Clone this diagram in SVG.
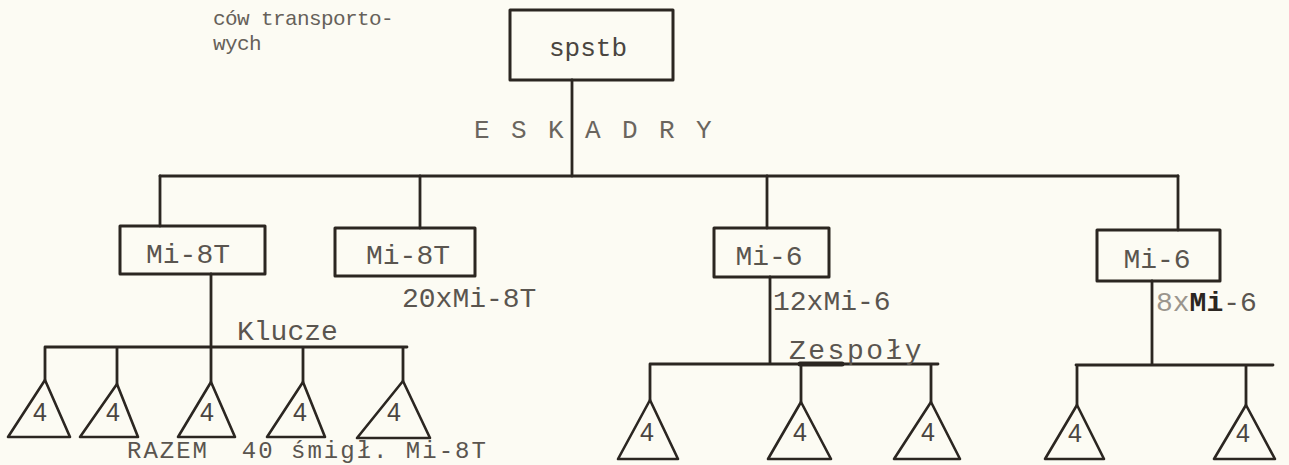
<svg xmlns="http://www.w3.org/2000/svg" width="1289" height="465" viewBox="0 0 1289 465">
<style>
.bg{fill:#fcfbf3}
.box{fill:none;stroke:#2b2621;stroke-width:3;stroke-linejoin:round}
.tri{fill:none;stroke:#2b2621;stroke-width:2.6;stroke-linejoin:round}
.ln{fill:none;stroke:#2b2621;stroke-width:2.8;stroke-linecap:round}
.tw{font-family:"Liberation Mono","DejaVu Sans Mono",monospace;fill:#5a554f}
.lbl{font-size:28px}
.sm{font-size:21px;letter-spacing:-0.6px;fill:#66615a}
.four{font-family:"Liberation Sans","DejaVu Sans",sans-serif;font-size:25px;fill:#4a4540;text-anchor:middle}
.mid{text-anchor:middle}
</style>
<rect class="bg" x="0" y="0" width="1289" height="465"/>

<g id="caption">
<text class="tw sm" x="213" y="25">ców transporto-</text>
<text class="tw sm" x="213" y="50">wych</text>
</g>

<g id="connectors">
<path class="ln" d="M572,80 V176"/>
<path class="ln" d="M160,176 H1178"/>
<path class="ln" d="M160,176 V226 M420,176 V228 M767,176 V228 M1178,176 V230"/>
<path class="ln" d="M211,274 V347 M45,347 H407 M45,347 V380 M117,347 V384 M211,347 V382 M303,347 V382 M403,347 V381"/>
<path class="ln" d="M770,277 V364 M650,364 H938 M650,364 V400 M801,364 V402 M931,364 V402"/>
<path class="ln" d="M800,364 H842" style="stroke-width:5"/>
<path class="ln" d="M1152,281 V365 M1076,365 H1273 M1077,365 V405 M1246,365 V405"/>
</g>

<g id="n-spstb">
<rect class="box" x="510" y="10" width="163" height="70"/>
<text class="tw mid" x="588" y="56" style="font-size:26px;fill:#4a4540">spstb</text>
</g>

<g id="l-eskadry">
<text class="tw" x="474" y="138" style="font-size:26px;letter-spacing:2.9px;fill:#6a655e" xml:space="preserve">E S K A D R Y</text>
</g>

<g id="n-mi8t-1">
<rect class="box" x="120" y="226" width="145" height="48"/>
<text class="tw lbl mid" x="188" y="263">Mi-8T</text>
</g>
<g id="n-mi8t-2">
<rect class="box" x="335" y="228" width="140" height="48"/>
<text class="tw lbl mid" x="408" y="264">Mi-8T</text>
</g>
<g id="n-mi6-1">
<rect class="box" x="714" y="228" width="115" height="49"/>
<text class="tw lbl mid" x="769" y="265">Mi-6</text>
</g>
<g id="n-mi6-2">
<rect class="box" x="1097" y="230" width="123" height="51"/>
<text class="tw lbl mid" x="1157" y="268">Mi-6</text>
</g>

<g id="labels">
<text class="tw lbl" x="402" y="307">20xMi-8T</text>
<text class="tw lbl" x="773" y="310">12xMi-6</text>
<text class="tw lbl" x="1156" y="311"><tspan style="fill:#9a958d">8x</tspan><tspan style="font-weight:bold;fill:#2b2621">Mi</tspan>-6</text>
<text class="tw lbl" x="237" y="340">Klucze</text>
<text class="tw lbl" x="789" y="359" style="letter-spacing:2.5px">Zespoły</text>
<text class="tw" x="127" y="458" style="font-size:24px;letter-spacing:2px" xml:space="preserve">RAZEM  40 śmigł. Mi-8T</text>
</g>

<g id="t1"><polygon class="tri" points="45,380 8,437 70,437"/><text class="four" x="40" y="421">4</text></g>
<g id="t2"><polygon class="tri" points="117,384 80,437 138,437"/><text class="four" x="113" y="421">4</text></g>
<g id="t3"><polygon class="tri" points="211,382 178,437 235,437"/><text class="four" x="207" y="421">4</text></g>
<g id="t4"><polygon class="tri" points="303,382 267,437 325,437"/><text class="four" x="300" y="421">4</text></g>
<g id="t5"><polygon class="tri" points="403,381 357,438 430,438"/><text class="four" x="394" y="421">4</text></g>
<g id="t6"><polygon class="tri" points="650,400 618,459 678,459"/><text class="four" x="647" y="441">4</text></g>
<g id="t7"><polygon class="tri" points="801,402 768,459 831,459"/><text class="four" x="800" y="441">4</text></g>
<g id="t8"><polygon class="tri" points="931,402 894,459 960,459"/><text class="four" x="928" y="441">4</text></g>
<g id="t9"><polygon class="tri" points="1077,405 1045,459 1104,459"/><text class="four" x="1075" y="442">4</text></g>
<g id="t10"><polygon class="tri" points="1246,405 1214,459 1275,459"/><text class="four" x="1243" y="442">4</text></g>
</svg>
